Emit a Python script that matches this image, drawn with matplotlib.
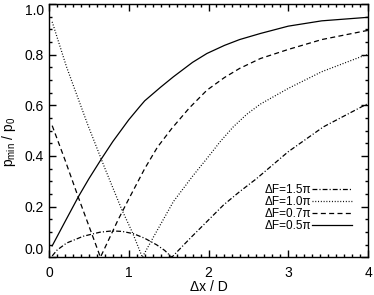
import matplotlib
matplotlib.use("Agg")
import matplotlib.pyplot as plt
from matplotlib.ticker import MultipleLocator

plt.rcParams['font.family'] = ['Liberation Sans', 'DejaVu Sans']
plt.rcParams['mathtext.fontset'] = 'custom'
plt.rcParams['mathtext.rm'] = 'Liberation Sans'
plt.rcParams['lines.scale_dashes'] = False

# values
x_15 = [0.04, 0.10, 0.22, 0.43, 0.64, 0.79, 0.92, 1.06, 1.20, 1.35, 1.45, 1.54,
        1.77, 1.98, 2.19, 2.39, 2.60, 3.00, 3.44, 3.96, 4.00]
y_15 = [0.005, 0.028, 0.056, 0.083, 0.099, 0.104, 0.102, 0.093, 0.075, 0.049, 0.027, 0.0,
        0.075, 0.141, 0.207, 0.259, 0.310, 0.417, 0.515, 0.601, 0.607]

x_10 = [0.04, 0.22, 0.49, 0.70, 0.91, 1.05, 1.17,
        1.31, 1.56, 1.80, 1.98, 2.15, 2.31, 2.48, 2.65, 3.00, 3.42, 3.96, 4.00]
y_10 = [0.930, 0.752, 0.520, 0.352, 0.190, 0.095, 0.0,
        0.080, 0.220, 0.320, 0.390, 0.458, 0.515, 0.565, 0.605, 0.667, 0.733, 0.798, 0.800]

x_07 = [0.04, 0.20, 0.37, 0.50, 0.645,
        0.865, 1.00, 1.20, 1.36, 1.54, 1.76, 1.98, 2.20, 2.39, 2.65, 3.00, 3.42, 3.96, 4.00]
y_07 = [0.520, 0.385, 0.235, 0.124, 0.0,
        0.147, 0.230, 0.350, 0.435, 0.509, 0.590, 0.660, 0.710, 0.746, 0.785, 0.821, 0.860, 0.894, 0.896]

x_05 = [0.04, 0.20, 0.37, 0.50, 0.66, 0.80, 1.00, 1.14, 1.20, 1.40, 1.56, 1.80,
        1.98, 2.20, 2.39, 2.65, 3.00, 3.42, 3.96, 4.00]
y_05 = [0.045, 0.140, 0.240, 0.310, 0.390, 0.457, 0.543, 0.596, 0.618, 0.672, 0.713, 0.770,
        0.805, 0.837, 0.860, 0.884, 0.913, 0.934, 0.947, 0.948]

labels = ['\u0394F=1.5\u03c0', '\u0394F=1.0\u03c0', '\u0394F=0.7\u03c0', '\u0394F=0.5\u03c0']

fig = plt.figure(figsize=(3.74, 2.95), dpi=100)
ax = fig.add_axes([0.131, 0.128, 0.853, 0.858])

lw = 0.9
ax.plot(x_15, y_15, color='black', lw=lw, dashes=(3.5, 1.5, 0.8, 1.5), label=labels[0])
ax.plot(x_10, y_10, color='black', lw=lw, dashes=(0.7, 1.3), label=labels[1])
ax.plot(x_07, y_07, color='black', lw=lw, dashes=(3.6, 2.4), label=labels[2])
ax.plot(x_05, y_05, color='black', lw=lw, label=labels[3])

ax.set_xlim(0, 4)
ax.set_ylim(0, 1.0)
ax.xaxis.set_major_locator(MultipleLocator(1))
ax.xaxis.set_minor_locator(MultipleLocator(0.1))
ax.yaxis.set_major_locator(MultipleLocator(0.2))
ax.yaxis.set_minor_locator(MultipleLocator(0.05))
ax.yaxis.set_major_formatter(plt.FormatStrFormatter('%.1f'))
ax.tick_params(which='both', direction='in', top=True, right=True, width=1.0)
ax.tick_params(which='major', length=5)
ax.tick_params(which='minor', length=2.5)
ax.tick_params(axis='x', pad=6, labelsize=10)
ax.tick_params(axis='y', pad=3.5, labelsize=10)
for sp in ax.spines.values():
    sp.set_linewidth(1.0)

ax.set_xlabel('\u0394x / D', fontsize=10, va='baseline')
ax.set_ylabel(r'$\mathrm{p_{min}}$ / $\mathrm{p_0}$', fontsize=10)
ax.xaxis.set_label_coords(0.5, -0.133)
ax.yaxis.set_label_coords(-0.096, 0.456)

ax.legend(loc='center', bbox_to_anchor=(0.813, 0.194), frameon=False, markerfirst=False,
          fontsize=8.5, handlelength=3.4, handletextpad=0.0, labelspacing=0.0,
          borderpad=0, borderaxespad=0)

# end labels sit inside the axis range, as in the original
fig.canvas.draw()
for t in ax.yaxis.get_major_ticks():
    if abs(t.get_loc()) < 1e-9:
        t.label1.set_va('bottom')
    elif abs(t.get_loc() - 1.0) < 1e-9:
        t.label1.set_va('top')

fig.savefig('out.png', dpi=100)
